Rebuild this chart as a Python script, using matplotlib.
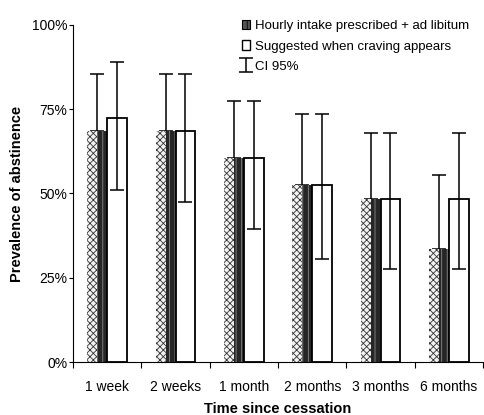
import numpy as np
import matplotlib
matplotlib.use("Agg")
import matplotlib.pyplot as plt
from matplotlib.patches import Patch
from matplotlib.ticker import FixedLocator, PercentFormatter

plt.rcParams["font.family"] = ["Liberation Sans", "DejaVu Sans"]
plt.rcParams["hatch.linewidth"] = 0.6

# ---------------------------------------------------------
# data (% abstinent)
# ---------------------------------------------------------
periods = ["1 week", "2 weeks", "1 month", "2 months", "3 months", "6 months"]

hourly = [68.5, 68.5, 60.5, 52.5, 48.5, 33.5]
hourly_hi = [85.5, 85.5, 77.5, 73.5, 68, 55.5]

craving = [72.5, 68.5, 60.5, 52.5, 48.5, 48.5]
craving_hi = [89, 85.5, 77.5, 73.5, 68, 68]
craving_lo = [51, 47.5, 39.5, 30.5, 27.5, 27.5]

# ---------------------------------------------------------
# plot
# ---------------------------------------------------------
fig = plt.figure(figsize=(4.85, 4.15), dpi=100)
ax = fig.add_axes([0.1505, 0.1277, 0.8455, 0.8121])

x = np.arange(len(periods))
w = 0.29
h = np.array(hourly)
c = np.array(craving)

# hourly bar = crosshatched left half + dark right half
ax.bar(x - w * 0.75, h, w / 2, color="#f2f2f2", edgecolor="#333333",
       hatch="xxxxx", linewidth=0, zorder=2)
ax.bar(x - w * 0.25, h, w / 2, color="#262626", edgecolor="#8a8a8a",
       hatch="|||", linewidth=0, zorder=2)
ax.errorbar(x - w / 2, h, yerr=[np.zeros_like(h), np.array(hourly_hi) - h],
            fmt="none", ecolor="black", elinewidth=1.1, capsize=5,
            capthick=1.1, zorder=1)

ax.bar(x + w / 2, c, w, color="white", edgecolor="black", linewidth=1.3,
       zorder=2)
eb = ax.errorbar(x + w / 2, c,
                 yerr=[c - np.array(craving_lo), np.array(craving_hi) - c],
                 fmt="none", ecolor="black", elinewidth=1.1, capsize=5,
                 capthick=1.1, zorder=3)

ax.set_xlim(-0.5, len(periods) - 0.5)
ax.set_ylim(0, 100)
ax.set_yticks([0, 25, 50, 75, 100])
ax.yaxis.set_major_formatter(PercentFormatter(decimals=0))
ax.set_xticks(x)
ax.set_xticklabels(periods)
ax.xaxis.set_minor_locator(FixedLocator(np.arange(-0.5, len(periods), 1)))
ax.tick_params(axis="x", which="major", length=0, pad=13, labelsize=10)
ax.tick_params(axis="x", which="minor", length=4, width=0.8, direction="out")
ax.tick_params(axis="y", length=3, width=0.8, labelsize=10, pad=1)

for s in ["top", "right"]:
    ax.spines[s].set_visible(False)
for s in ["left", "bottom"]:
    ax.spines[s].set_linewidth(0.8)

ax.set_xlabel("Time since cessation", fontsize=10.5, fontweight="bold",
              labelpad=6)
ax.set_ylabel("Prevalence of abstinence", fontsize=10.5, fontweight="bold",
              labelpad=6)

handles = [
    Patch(facecolor="#555555", edgecolor="black", hatch="|||", linewidth=0.8),
    Patch(facecolor="white", edgecolor="black", linewidth=1.0),
    eb,
]
labels = ["Hourly intake prescribed + ad libitum",
          "Suggested when craving appears",
          "CI 95%"]
ax.legend(handles, labels, loc="upper left", bbox_to_anchor=(0.4, 1.03),
          frameon=False, fontsize=9.5, handlelength=0.6, handleheight=0.7,
          handletextpad=0.4, labelspacing=0.6, borderaxespad=0)

fig.savefig("out.png", dpi=100)
